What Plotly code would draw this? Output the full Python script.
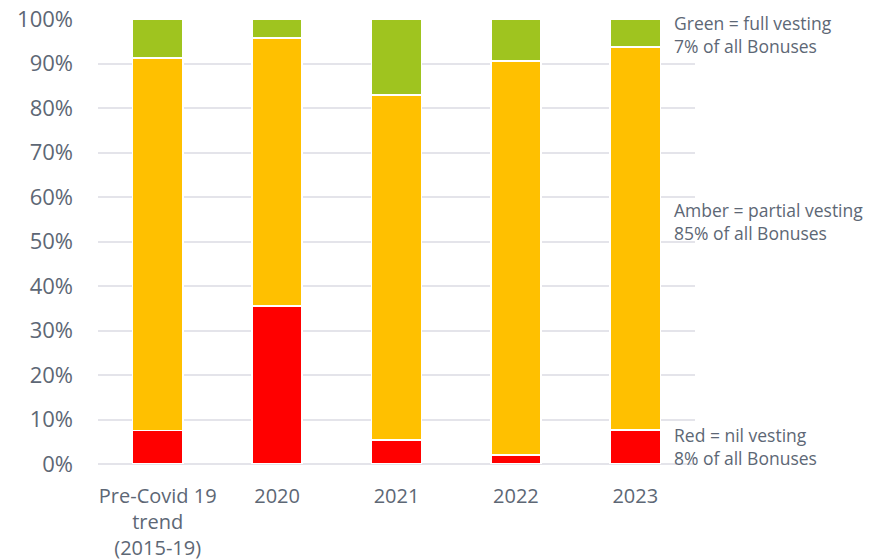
import plotly.graph_objects as go

categories = ["Pre-Covid 19<br>trend<br>(2015-19)", "2020", "2021", "2022", "2023"]
red_nil = [0.075, 0.355, 0.054, 0.020, 0.076]
amber_partial = [0.837, 0.602, 0.775, 0.886, 0.861]
green_full = [0.088, 0.043, 0.171, 0.094, 0.063]

notes = [
    ("Green = full vesting<br>7% of all Bonuses", 0.966),
    ("Amber = partial vesting<br>85% of all Bonuses", 0.544),
    ("Red = nil vesting<br>8% of all Bonuses", 0.040),
]

FONT = "Open Sans, Noto Sans, sans-serif"
GREY = "#5d6775"

fig = go.Figure()
for name, vals, col in [("Red", red_nil, "#FF0000"),
                        ("Amber", amber_partial, "#FFC000"),
                        ("Green", green_full, "#9FC41F")]:
    fig.add_trace(go.Bar(x=categories, y=vals, name=name,
                         marker=dict(color=col, line=dict(color="white", width=1.5))))

W, H = 881, 560
ml, mr, mt, mb = 98, 186, 19, 96
for text, yv in notes:
    fig.add_annotation(text=text, xref="paper", yref="y",
                       x=(672 - ml) / (W - ml - mr), y=yv,
                       xanchor="left", yanchor="middle", align="left",
                       showarrow=False, font=dict(family=FONT, size=17.5, color=GREY))

fig.update_layout(
    barmode="stack", bargap=0.58, width=W, height=H,
    margin=dict(l=ml, r=mr, t=mt, b=mb, autoexpand=False),
    paper_bgcolor="white", plot_bgcolor="white",
    showlegend=False,
    font=dict(family=FONT, color=GREY),
)
fig.update_xaxes(tickfont=dict(size=20, color=GREY), showline=False, ticks="",
                 showgrid=False, automargin=False, ticklabelstandoff=18)
fig.update_yaxes(range=[0, 1], tickformat=".0%", dtick=0.1,
                 tickfont=dict(size=22, color=GREY),
                 showgrid=True, gridcolor="#e4e4ea", gridwidth=2,
                 zeroline=True, zerolinecolor="#e4e4ea", zerolinewidth=2,
                 ticks="", ticklabelstandoff=24, automargin=False)

fig.write_html("out.html")
